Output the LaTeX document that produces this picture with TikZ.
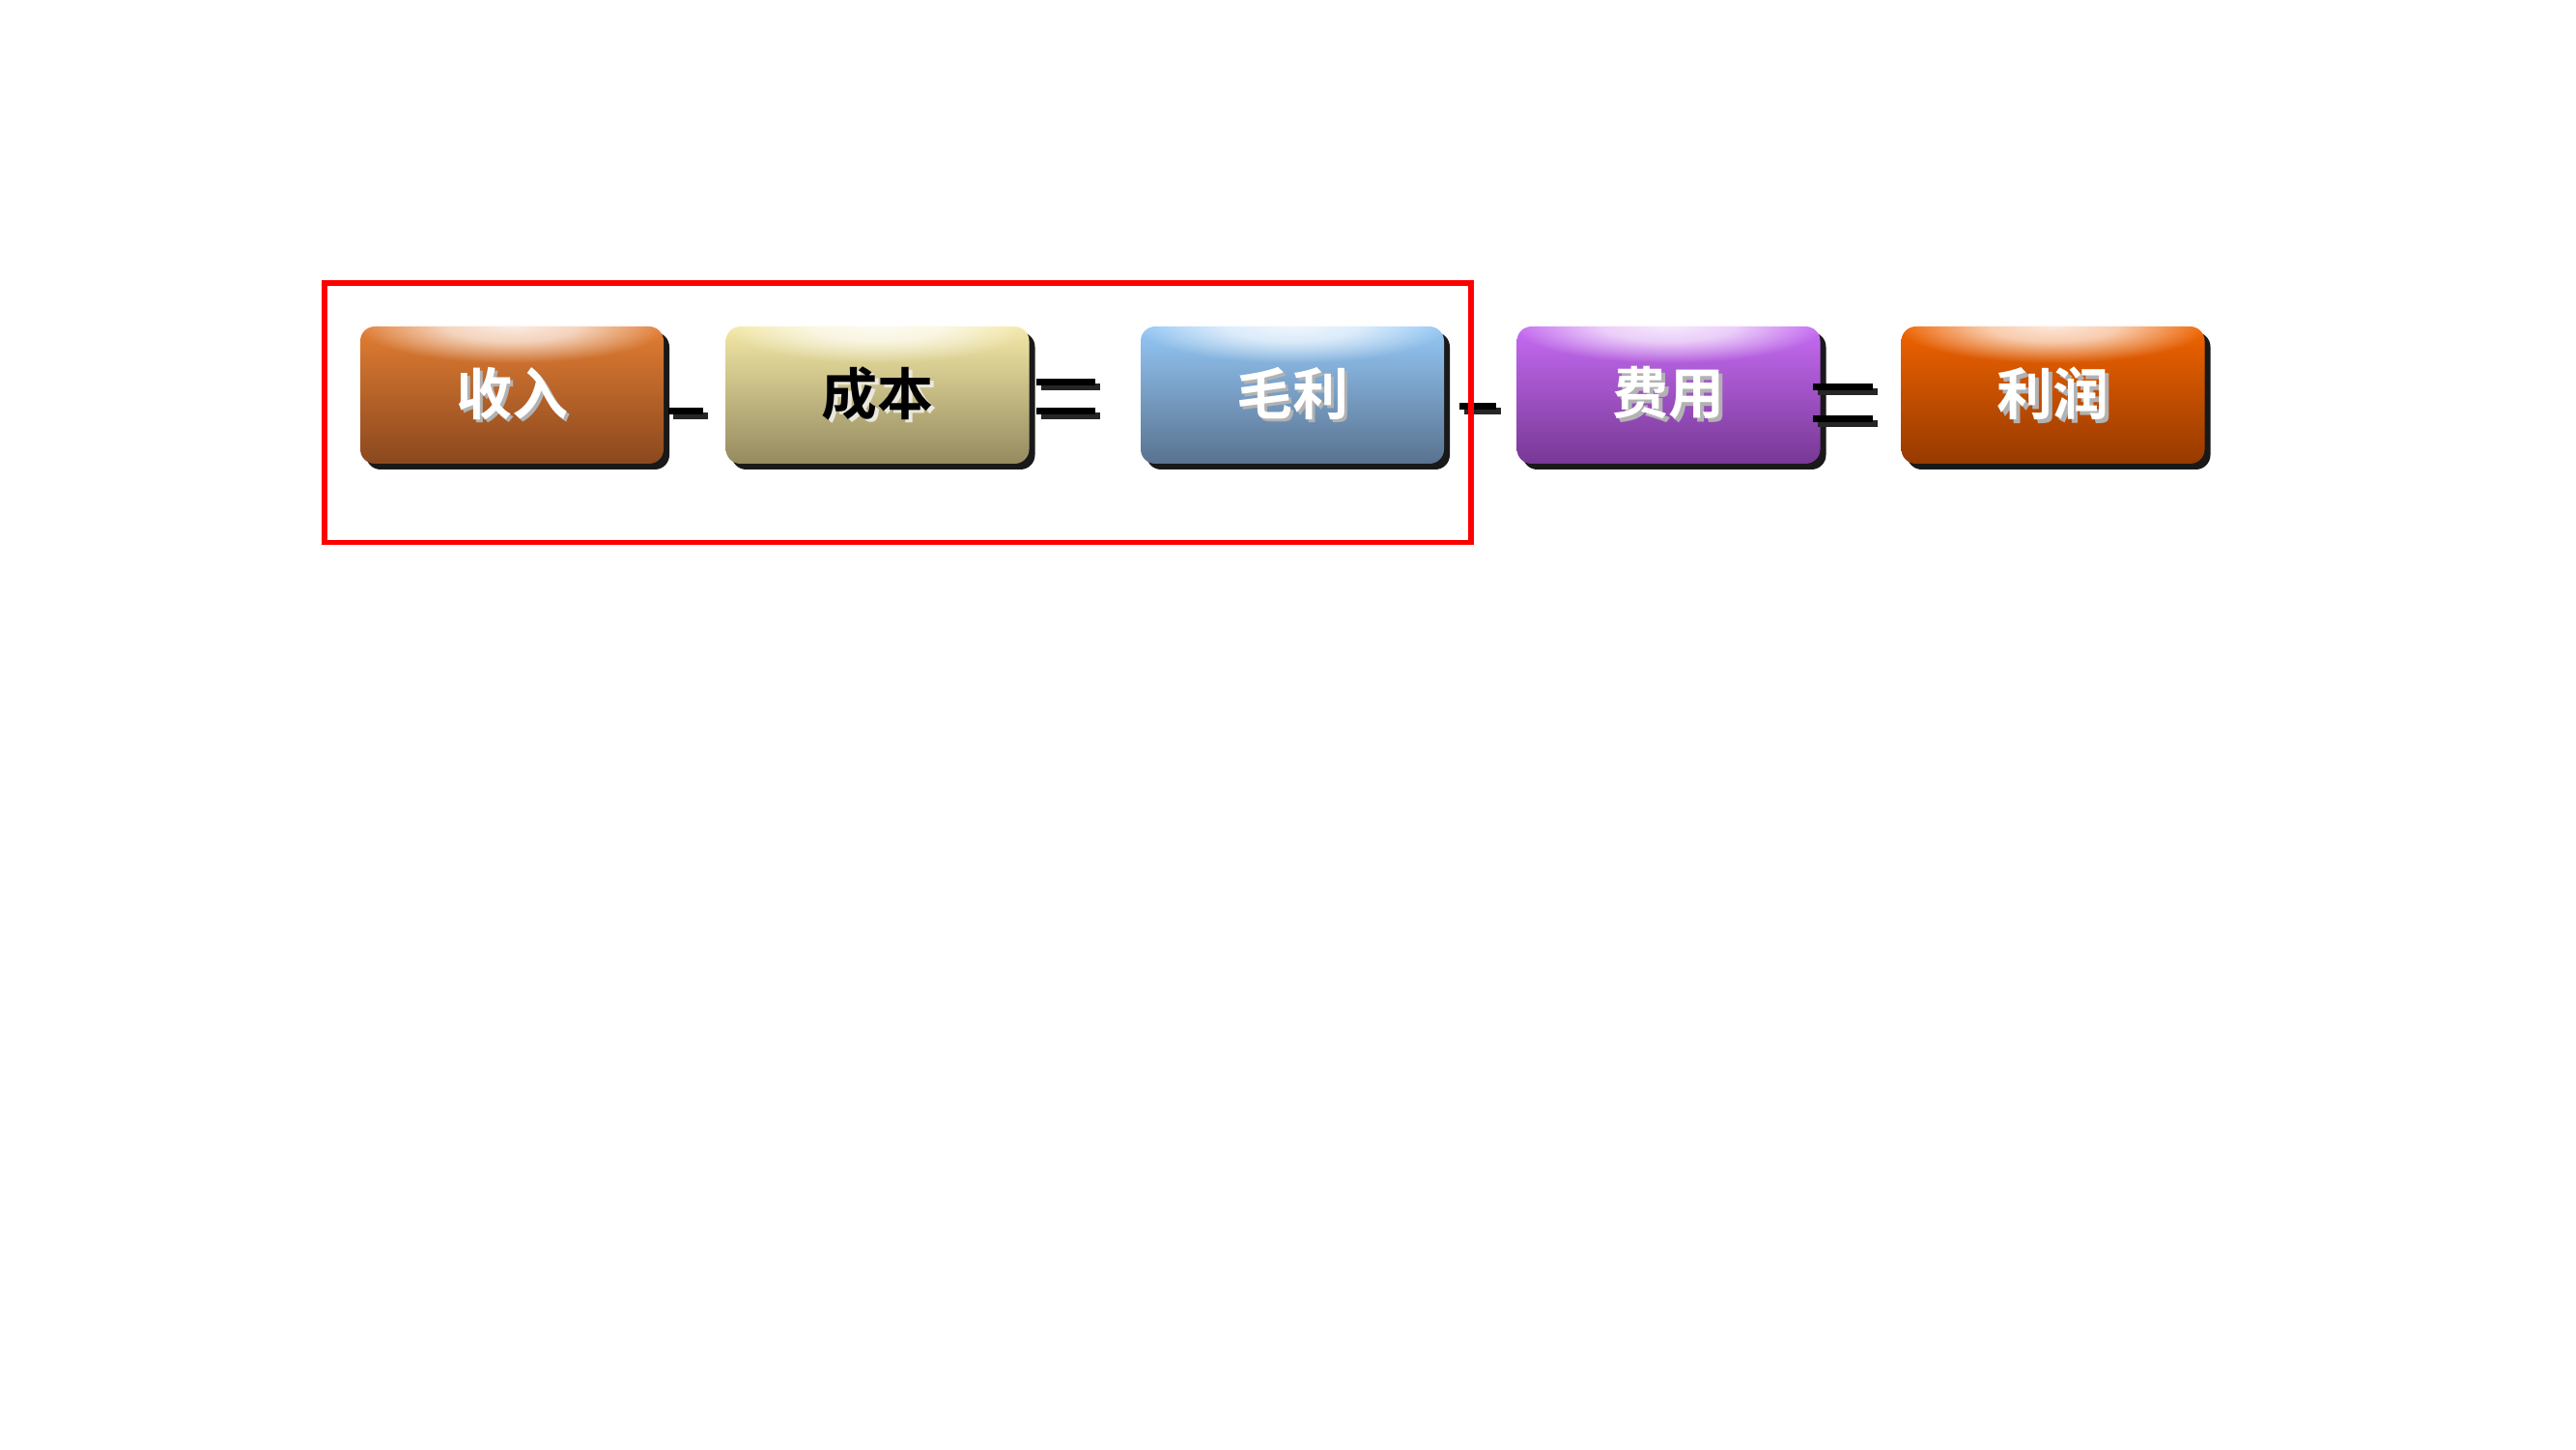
\documentclass[tikz,border=0pt]{standalone}
\usepackage{fontspec}
\setmainfont{Noto Sans CJK SC}[BoldFont={Noto Sans CJK SC Bold}]
\usetikzlibrary{shadows,fadings}

\definecolor{incomeTop}{HTML}{E27D33}
\definecolor{incomeBot}{HTML}{8A481E}
\definecolor{costTop}{HTML}{F3E8A6}
\definecolor{costBot}{HTML}{948A5F}
\definecolor{grossTop}{HTML}{94C8F6}
\definecolor{grossBot}{HTML}{59728F}
\definecolor{expTop}{HTML}{C66BF3}
\definecolor{expBot}{HTML}{773894}
\definecolor{profitTop}{HTML}{F06300}
\definecolor{profitBot}{HTML}{963A00}

\pgfdeclareradialshading{glossshade}{\pgfpoint{0bp}{0bp}}{color(0bp)=(white); color(10bp)=(white!80!black); color(24bp)=(black); color(50bp)=(black)}
\pgfdeclarefading{glossfade}{\pgfuseshading{glossshade}}

\newcommand{\shtext}[3]{\makebox[0pt][l]{\hspace{1.1pt}\raisebox{-1.1pt}{\color{#3}#1}}{\color{#2}#1}}

\tikzset{
  card/.style={rectangle, rounded corners=0.15cm, minimum width=3.14cm, minimum height=1.42cm,
    inner sep=0pt, font=\bfseries\fontsize{16.5pt}{18pt}\selectfont,
    drop shadow={shadow xshift=0.06cm, shadow yshift=-0.06cm, fill=black!90, opacity=1}},
  opbar/.style={rectangle, fill=black, inner sep=0pt, minimum height=0.07cm,
    drop shadow={shadow xshift=0.05cm, shadow yshift=-0.05cm, fill=black!85, opacity=1}}
}

\begin{document}
\begin{tikzpicture}
  \useasboundingbox (0, 0) rectangle (26.67, 15);
  \fill[white] (0, 0) rectangle (26.67, 15);
  % boxes
  \node[card, top color=incomeTop, bottom color=incomeBot] (income) at (5.30, 10.91) {\shtext{收入}{white}{black!30}};
  \node[card, top color=costTop, bottom color=costBot] (cost) at (9.085, 10.91) {\shtext{成本}{black}{white!80!costBot}};
  \node[card, top color=grossTop, bottom color=grossBot] (gross) at (13.38, 10.91) {\shtext{毛利}{white}{black!30}};
  \node[card, top color=expTop, bottom color=expBot] (expense) at (17.275, 10.91) {\shtext{费用}{white}{black!30}};
  \node[card, top color=profitTop, bottom color=profitBot] (profit) at (21.255, 10.91) {\shtext{利润}{white}{black!30}};
  % gloss
  \foreach \n in {income, cost, gross, expense, profit} {
    \begin{scope}
      \clip[rounded corners=0.15cm] (\n.north west) rectangle (\n.south east);
      \fill[white, path fading=glossfade, fill opacity=0.85]
        ([xshift=-0.1cm, yshift=0.4cm]\n.north west) rectangle ([xshift=0.1cm, yshift=-0.4cm]\n.north east);
    \end{scope}
  }
  % signs
  \node[opbar, minimum width=0.36cm] (minusA) at (7.10, 10.745) {};
  \node[opbar, minimum width=0.61cm] (eqAtop) at (11.035, 11.045) {};
  \node[opbar, minimum width=0.61cm] (eqAbot) at (11.035, 10.745) {};
  \node[opbar, minimum width=0.38cm] (minusB) at (15.30, 10.795) {};
  \node[opbar, minimum width=0.62cm] (eqBtop) at (19.08, 10.995) {};
  \node[opbar, minimum width=0.62cm] (eqBbot) at (19.08, 10.665) {};
  % frame
  \draw[red, line width=0.06cm] (3.36, 12.065) rectangle (15.225, 9.385);
\end{tikzpicture}
\end{document}
